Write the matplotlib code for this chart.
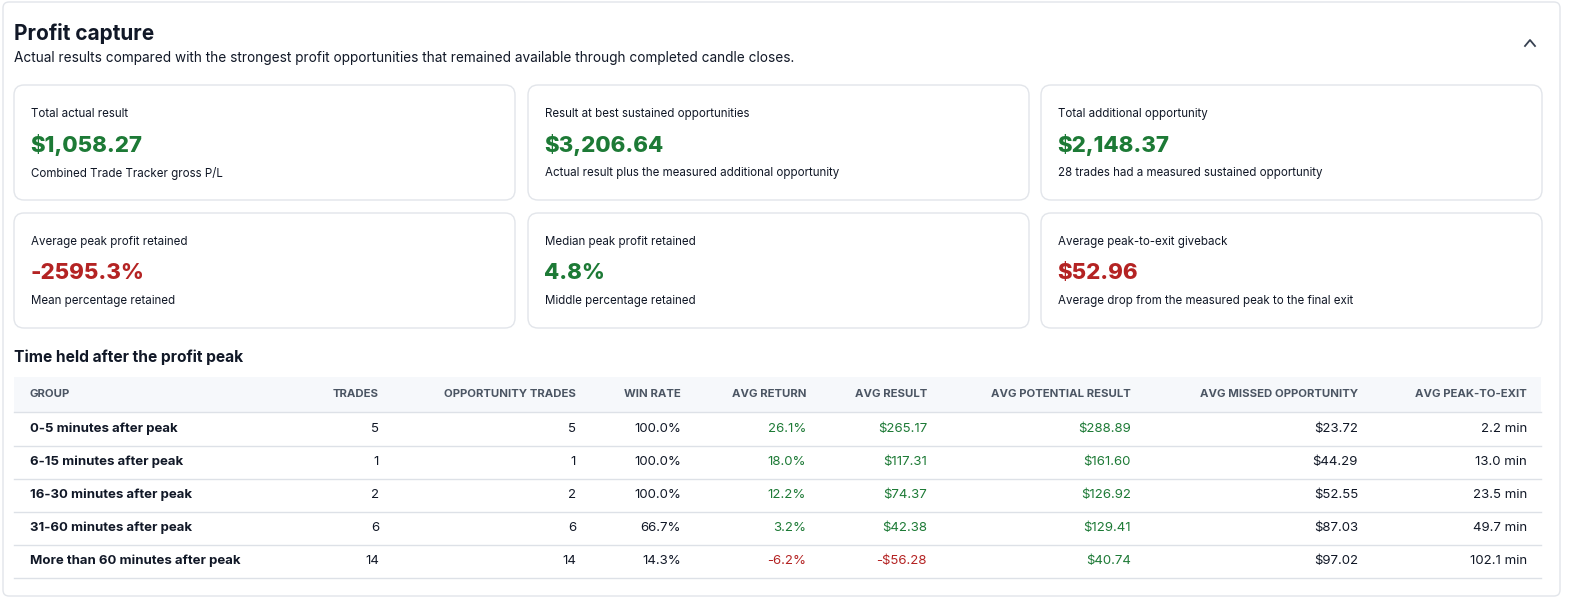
import matplotlib.pyplot as plt
from matplotlib.patches import FancyBboxPatch, Rectangle

plt.rcParams['font.family'] = ['Inter', 'DejaVu Sans']

GREEN = "#1d7a36"
RED = "#b42323"
DARK = "#111827"

card_labels = ["Total actual result", "Result at best sustained opportunities", "Total additional opportunity",
               "Average peak profit retained", "Median peak profit retained", "Average peak-to-exit giveback"]
card_values = ["$1,058.27", "$3,206.64", "$2,148.37", "-2595.3%", "4.8%", "$52.96"]
card_colors = [GREEN, GREEN, GREEN, RED, GREEN, RED]
card_notes = ["Combined Trade Tracker gross P/L", "Actual result plus the measured additional opportunity",
              "28 trades had a measured sustained opportunity", "Mean percentage retained",
              "Middle percentage retained", "Average drop from the measured peak to the final exit"]

headers = ["GROUP", "TRADES", "OPPORTUNITY TRADES", "WIN RATE", "AVG RETURN", "AVG RESULT",
           "AVG POTENTIAL RESULT", "AVG MISSED OPPORTUNITY", "AVG PEAK-TO-EXIT"]
groups = ["0-5 minutes after peak", "6-15 minutes after peak", "16-30 minutes after peak",
          "31-60 minutes after peak", "More than 60 minutes after peak"]
trades = [5, 1, 2, 6, 14]
opp_trades = [5, 1, 2, 6, 14]
win_rate = [100.0, 100.0, 100.0, 66.7, 14.3]
avg_return = [26.1, 18.0, 12.2, 3.2, -6.2]
avg_result = [265.17, 117.31, 74.37, 42.38, -56.28]
avg_potential = [288.89, 161.60, 126.92, 129.41, 40.74]
avg_missed = [23.72, 44.29, 52.55, 87.03, 97.02]
avg_peak_exit = [2.2, 13.0, 23.5, 49.7, 102.1]

fig = plt.figure(figsize=(15.87, 6.06), dpi=100)
ax = fig.add_axes([0, 0, 1, 1])
ax.set_xlim(0, 1587)
ax.set_ylim(606, 0)
ax.axis("off")


def box(x0, y0, x1, y1, r=10, fc="white", ec="#e2e5ea"):
    ax.add_patch(FancyBboxPatch((x0, y0), x1 - x0, y1 - y0, boxstyle=f"round,pad=0,rounding_size={r}",
                                fc=fc, ec=ec, lw=1))


box(3, 2, 1560, 596, r=6)
ax.text(14, 33, "Profit capture", fontsize=15, fontweight="bold", color=DARK, va="center")
ax.text(14, 58, "Actual results compared with the strongest profit opportunities that remained available "
        "through completed candle closes.", fontsize=9.8, color=DARK, va="center")
ax.plot([1525, 1530, 1535], [46, 40, 46], color="#374151", lw=1.3)

col_x = [14, 528, 1041]
row_y = [85, 213]
for i in range(6):
    x0 = col_x[i % 3]
    y0 = row_y[i // 3]
    box(x0, y0, x0 + 501, y0 + 115)
    ax.text(x0 + 17, y0 + 29, card_labels[i], fontsize=8.3, color=DARK, va="center")
    ax.text(x0 + 16, y0 + 60, card_values[i], fontsize=16, fontweight="heavy", color=card_colors[i], va="center")
    ax.text(x0 + 17, y0 + 88, card_notes[i], fontsize=8.3, color=DARK, va="center")

ax.text(14, 357, "Time held after the profit peak", fontsize=11.2, fontweight="bold", color=DARK, va="center")

ax.add_patch(Rectangle((14, 377), 1527, 35, fc="#f6f8fb", ec="none"))
ax.plot([14, 1541], [412, 412], color="#dde1e7", lw=1)
right_x = [379, 576, 681, 806, 927, 1131, 1358, 1527]
ax.text(30, 394, headers[0], fontsize=8.2, fontweight="bold", color="#4b5563", va="center")
for h, x in zip(headers[1:], right_x):
    ax.text(x, 394, h, fontsize=8.2, fontweight="bold", color="#4b5563", va="center", ha="right")

for r in range(len(groups)):
    y = 429 + r * 33
    ax.plot([14, 1541], [y + 17, y + 17], color="#dde1e7", lw=1)
    ax.text(30, y, groups[r], fontsize=9.5, fontweight="bold", color=DARK, va="center")
    ret_c = GREEN if avg_return[r] >= 0 else RED
    res_c = GREEN if avg_result[r] >= 0 else RED
    res = f"${avg_result[r]:,.2f}" if avg_result[r] >= 0 else f"-${-avg_result[r]:,.2f}"
    cells = [(str(trades[r]), DARK), (str(opp_trades[r]), DARK), (f"{win_rate[r]:.1f}%", DARK),
             (f"{avg_return[r]:.1f}%", ret_c), (res, res_c), (f"${avg_potential[r]:,.2f}", GREEN),
             (f"${avg_missed[r]:,.2f}", DARK), (f"{avg_peak_exit[r]:.1f} min", DARK)]
    for (t, c), x in zip(cells, right_x):
        ax.text(x, y, t, fontsize=9.5, color=c, va="center", ha="right")

fig.savefig("out.png", dpi=100, facecolor="white")
